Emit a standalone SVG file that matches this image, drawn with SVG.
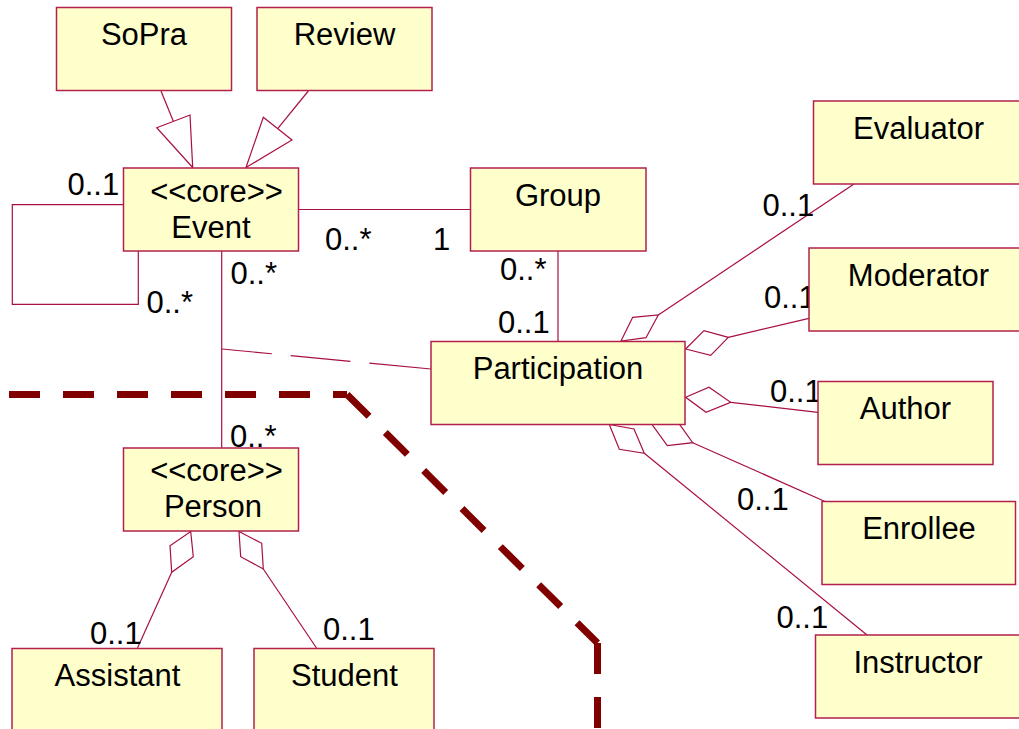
<svg xmlns="http://www.w3.org/2000/svg" width="1019" height="729" viewBox="0 0 1019 729">
<style>
.box{fill:#FFFFCC;stroke:#B3204C;stroke-width:1.5}
.t{font-family:"Liberation Sans",Arial,sans-serif;font-size:31px;fill:#000}
.c{text-anchor:middle}
.ln{fill:none;stroke:#A8103F;stroke-width:1.2}
.hd{fill:#fff;stroke:#A8103F;stroke-width:1.2}
.bd{fill:none;stroke:#800000;stroke-width:7;stroke-dasharray:31 23}
</style>
<rect width="1019" height="729" fill="#fff"/>
<g id="boundary">
<line class="bd" x1="9" y1="394.5" x2="347" y2="394.5"/>
<line class="bd" x1="347" y1="394.5" x2="597.5" y2="643"/>
<line class="bd" x1="597.5" y1="643" x2="597.5" y2="735"/>
</g>
<g id="connectors">
<polyline class="ln" points="161,91 173.3,121.3"/>
<polygon class="hd" points="156.7,127.7 190,115 192.7,167.5"/>
<polyline class="ln" points="308.3,91 277.7,128.7"/>
<polygon class="hd" points="263.3,117.3 292,140 246,167.5"/>
<polyline class="ln" points="123,204.7 12.3,204.7 12.3,304.3 138.3,304.3 138.3,251"/>
<line class="ln" x1="298" y1="209.5" x2="470" y2="209.5"/>
<line class="ln" x1="221.7" y1="251" x2="221.7" y2="448"/>
<line class="ln" x1="222" y1="349" x2="431" y2="369" stroke-dasharray="50 19 60 19 70"/>
<line class="ln" x1="558" y1="251" x2="558" y2="341"/>
<polygon class="hd" points="621,341 632.7,317.3 658.3,315 646,337.7"/>
<line class="ln" x1="658.3" y1="315" x2="854" y2="184"/>
<polygon class="hd" points="685.7,349 704,330.7 728.3,337.3 710.7,355.3"/>
<line class="ln" x1="728.3" y1="337.3" x2="809" y2="318.3"/>
<polygon class="hd" points="685.7,397.3 709,387.3 730.7,402.3 706,412.3"/>
<line class="ln" x1="730.7" y1="402.3" x2="818" y2="412.3"/>
<polygon class="hd" points="651.7,424 678.3,422.7 692.7,442.7 667.3,445.7"/>
<line class="ln" x1="692.7" y1="442.7" x2="825" y2="501.5"/>
<polygon class="hd" points="609.3,424.5 634,429 644.3,453.3 619.3,449.3"/>
<line class="ln" x1="644.3" y1="453.3" x2="867" y2="635"/>
<polygon class="hd" points="190.7,531.5 193.3,556.7 171.7,572.3 170,545.7"/>
<line class="ln" x1="171.7" y1="572.3" x2="137.5" y2="648"/>
<polygon class="hd" points="239,531.5 261.7,543.3 263.3,569 240.7,556.7"/>
<line class="ln" x1="263.3" y1="569" x2="316.5" y2="648"/>
<text class="t" x="67.5" y="195">0..1</text>
<text class="t" x="146.5" y="313">0..*</text>
<text class="t" x="325" y="250">0..*</text>
<text class="t" x="433" y="250">1</text>
<text class="t" x="230.5" y="283.5">0..*</text>
<text class="t" x="230" y="446.5">0..*</text>
<text class="t" x="500" y="280">0..*</text>
<text class="t" x="498" y="333">0..1</text>
<text class="t" x="762.5" y="215.5">0..1</text>
<text class="t" x="764" y="308">0..1</text>
<text class="t" x="770" y="402">0..1</text>
<text class="t" x="737" y="510">0..1</text>
<text class="t" x="776.5" y="628">0..1</text>
<text class="t" x="90" y="644">0..1</text>
<text class="t" x="323" y="640">0..1</text>
</g>
<g id="SoPra"><rect class="box" x="56.5" y="7.5" width="175" height="83"/><text class="t c" x="144" y="45">SoPra</text></g>
<g id="Review"><rect class="box" x="257" y="7.5" width="175" height="83"/><text class="t c" x="344.5" y="45">Review</text></g>
<g id="Event"><rect class="box" x="123.5" y="168" width="175" height="83"/><text class="t c" x="216.5" y="201.5">&lt;&lt;core&gt;&gt;</text><text class="t c" x="211" y="238">Event</text></g>
<g id="Group"><rect class="box" x="470.5" y="168" width="175.5" height="83"/><text class="t c" x="558" y="205.5">Group</text></g>
<g id="Participation"><rect class="box" x="431" y="341.5" width="254" height="83"/><text class="t c" x="558" y="379">Participation</text></g>
<g id="Evaluator"><rect class="box" x="813.5" y="101" width="212" height="83"/><text class="t c" x="918.5" y="139">Evaluator</text></g>
<g id="Moderator"><rect class="box" x="809" y="248" width="218" height="83"/><text class="t c" x="918.5" y="286">Moderator</text></g>
<g id="Author"><rect class="box" x="818" y="381.5" width="175" height="83"/><text class="t c" x="905.5" y="419">Author</text></g>
<g id="Enrollee"><rect class="box" x="822" y="501.5" width="193.5" height="83"/><text class="t c" x="919" y="539">Enrollee</text></g>
<g id="Instructor"><rect class="box" x="815.5" y="635" width="212" height="83"/><text class="t c" x="918" y="673">Instructor</text></g>
<g id="Person"><rect class="box" x="123.5" y="448" width="175" height="83"/><text class="t c" x="216.5" y="481">&lt;&lt;core&gt;&gt;</text><text class="t c" x="213" y="516.5">Person</text></g>
<g id="Assistant"><rect class="box" x="12" y="648.5" width="210" height="90"/><text class="t c" x="117.5" y="685.5">Assistant</text></g>
<g id="Student"><rect class="box" x="254" y="648.5" width="180" height="90"/><text class="t c" x="344.5" y="685.5">Student</text></g>
</svg>
